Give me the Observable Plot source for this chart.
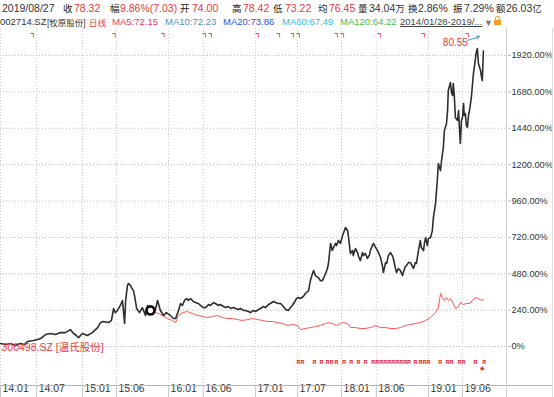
<!DOCTYPE html>
<html><head><meta charset="utf-8">
<script src="https://cdn.jsdelivr.net/npm/d3@7"></script>
<script src="https://cdn.jsdelivr.net/npm/@observablehq/plot@0.6"></script>
<style>
html,body{margin:0;padding:0;background:#fff;}
body{width:554px;height:397px;position:relative;overflow:hidden;font-family:"Liberation Sans","Noto Sans CJK SC",sans-serif;color:#333;}
.h{position:absolute;white-space:nowrap;line-height:12px;}
.r1{top:2px;font-size:10.5px;}
.r2{top:16px;font-size:9.5px;}
.cjk1{font-size:9.5px;top:3px;}
.cjk2{font-size:8.5px;top:17px;}
.sm{font-size:9.5px;}
#chart{position:absolute;left:0;top:28px;}
.ln{position:absolute;}
</style></head><body>
<div id="hdr"></div>
<div id="chart"></div>
<script>
// ---------- data ----------
const quoteDate = "2019/08/27";
const quoteLabels = ["收","幅","开","高","低","均","量","换","振","额"];
const quoteValues = ["78.32","9.86%(7.03)","74.00","78.42","73.22","76.45","34.04","2.86%","7.29%","26.03"];
const quoteUnits = ["","","","","","","万","","","亿"];
const stockCode = "002714.SZ";
const stockName = "[牧原股份]";
const periodName = "日线";
const maNames = ["MA5","MA10","MA20","MA60","MA120"];
const maValues = ["72.15","72.23","73.86","67.49","64.22"];
const rangeText = "2014/01/28-2019/...";
const compareName = "300498.SZ [温氏股份]";
const peakLabel = "80.55";

const xTickDays = [0, 102, 231, 327, 474, 572, 719, 838, 962, 1060, 1207, 1303];
const xTickLabels = ["14.01","14.07","15.01","15.06","16.01","16.06","17.01","17.07","18.01","18.06","19.01","19.06"];
const yTicks = [0, 240, 480, 720, 960, 1200, 1440, 1680, 1920];

// [trading day index, cumulative change %]
const muyuan = [[0,20],[14,13],[28,20],[42,7],[56,20],[68,13],[76,33],[93,40],[104,46],[113,53],[127,79],[141,86],[155,79],[169,92],[183,92],[197,112],[206,86],[214,73],[220,59],[231,86],[245,73],[259,92],[274,125],[282,158],[290,165],[305,158],[313,172],[319,251],[324,224],[330,238],[338,271],[344,304],[350,152],[353,304],[358,402],[361,416],[367,402],[369,389],[375,369],[378,336],[384,251],[392,224],[400,257],[409,205],[415,271],[423,238],[431,257],[437,244],[443,304],[451,238],[460,205],[468,224],[479,205],[488,185],[494,185],[502,238],[508,284],[513,271],[519,304],[525,317],[530,304],[536,317],[544,297],[550,290],[558,284],[564,271],[572,257],[578,257],[587,277],[592,271],[601,290],[606,284],[615,271],[620,277],[629,264],[635,257],[643,264],[649,251],[657,257],[663,251],[671,244],[677,251],[685,238],[691,238],[699,231],[705,224],[713,238],[719,231],[728,244],[733,251],[742,264],[747,257],[756,277],[761,284],[770,297],[776,290],[784,284],[790,284],[798,264],[804,244],[812,238],[818,257],[823,271],[832,304],[835,317],[840,323],[846,317],[854,330],[860,350],[869,369],[874,435],[880,482],[883,501],[888,468],[897,455],[902,435],[908,435],[917,482],[922,515],[925,548],[931,680],[936,633],[939,653],[945,680],[948,666],[953,699],[959,680],[964,726],[967,746],[973,785],[979,765],[981,732],[987,614],[993,633],[995,600],[1001,647],[1007,620],[1010,594],[1015,567],[1021,620],[1024,600],[1029,614],[1035,581],[1041,607],[1043,633],[1049,666],[1052,680],[1058,653],[1060,647],[1066,620],[1072,587],[1077,534],[1080,488],[1086,554],[1089,548],[1094,600],[1100,620],[1105,600],[1108,581],[1114,515],[1117,488],[1122,515],[1128,501],[1134,468],[1136,488],[1142,528],[1145,534],[1151,554],[1156,554],[1162,528],[1165,515],[1170,554],[1173,548],[1179,633],[1184,699],[1187,653],[1193,633],[1196,686],[1199,719],[1204,666],[1207,713],[1213,719],[1218,765],[1221,851],[1227,943],[1232,1095],[1235,1207],[1241,1161],[1244,1227],[1249,1313],[1252,1425],[1258,1471],[1261,1557],[1263,1689],[1269,1742],[1272,1676],[1275,1656],[1277,1735],[1280,1656],[1283,1511],[1289,1491],[1292,1557],[1294,1458],[1297,1339],[1300,1491],[1303,1511],[1306,1603],[1308,1524],[1311,1537],[1314,1458],[1317,1445],[1320,1524],[1323,1557],[1328,1643],[1334,1801],[1340,1907],[1342,1940],[1345,1966],[1348,1867],[1354,1821],[1356,1788],[1359,1755],[1362,1950]];

const wensDays = [423,437,446,457,471,485,494,502,513,527,541,556,570,584,598,612,626,640,654,668,682,697,711,725,739,753,767,781,795,809,823,838,846,860,874,888,902,917,925,936,948,959,967,979,987,1001,1015,1029,1043,1058,1072,1086,1100,1114,1128,1142,1156,1170,1184,1199,1213,1227,1235,1241,1246,1252,1258,1263,1269,1277,1283,1289,1297,1306,1314,1323,1331,1340,1348,1356,1362];
const wensPct = [238,224,218,205,185,172,158,205,224,231,218,205,198,191,198,205,191,185,185,178,172,178,185,178,172,165,165,158,152,139,145,139,112,119,125,132,139,152,158,152,139,152,158,152,125,125,119,119,125,139,125,125,119,119,125,139,145,152,158,172,191,224,257,350,323,304,323,304,317,284,251,257,290,277,284,284,304,323,317,304,310];

const infoFlagDays = [93,324,462,587,728,787,835,959,1072,1196,1320];
const infoFlagCounts = [1,1,1,2,1,1,2,2,1,1,1];
const rightsDays = [835,880,900,917,942,964,984,1004,1024,1046,1165,1179,1235,1255,1289,1334,1359];
const rightsCounts = [2,1,1,2,1,1,1,1,1,10,1,3,1,2,2,1,1];
const starDays = [1359];

// ---------- header ----------
const RED = "#e8383d";
const hdr = document.getElementById("hdr");
function span(cls, x, txt, color, extra) {
  const s = document.createElement("span");
  s.className = "h " + cls;
  s.style.left = x + "px";
  s.style.color = color;
  s.textContent = txt;
  if (extra) Object.assign(s.style, extra);
  hdr.appendChild(s);
  return s;
}
const labelX = [63,110,180,232,273,318,358,408,453,496];
const valueX = [74,120,192,243,285,329,369,418,464,506];
span("r1", 2, quoteDate, "#333");
quoteLabels.forEach((l, i) => {
  span("cjk1", labelX[i], l, "#222");
  const s = span("r1", valueX[i], quoteValues[i], i < 6 ? RED : "#333");
  if (quoteUnits[i]) {
    const u = document.createElement("span");
    u.className = "sm";
    u.textContent = quoteUnits[i];
    s.appendChild(u);
  }
});
span("r2", 0, stockCode, "#333");
span("cjk2", 47, stockName, "#333");
span("cjk2", 89, periodName, RED);
const maColors = ["#e8405a","#5a8db8","#3050e0","#2ec0e0","#4cbb4c"];
const maX = [112,165,223,282,340];
maNames.forEach((n, i) => span("r2", maX[i], n + ":" + maValues[i], maColors[i]));
span("r2", 400, rangeText, "#444", {textDecoration: "underline"});
span("r2", 484, "▼", "#777", {fontSize: "9px", top: "17px"});
const lk = document.createElement("div");
Object.assign(lk.style, {position:"absolute", left:"494px", top:"20px", width:"7px", height:"5px", background:"#f0a020"});
hdr.appendChild(lk);
const lk2 = document.createElement("div");
Object.assign(lk2.style, {position:"absolute", left:"495px", top:"16px", width:"3px", height:"4px", border:"1.5px solid #f0a020", borderBottom:"none", borderRadius:"3px 3px 0 0"});
hdr.appendChild(lk2);

function line(l, t, w, h, c) {
  const d = document.createElement("div");
  d.className = "ln";
  Object.assign(d.style, {left: l + "px", top: t + "px", width: w + "px", height: h + "px", background: c});
  document.body.appendChild(d);
}

// ---------- chart ----------
const muyuanData = muyuan.map(([day, pct]) => ({day, pct}));
const wensData = wensDays.map((day, i) => ({day, pct: wensPct[i]}));
const flagData = infoFlagDays.map((day, i) => ({day, n: infoFlagCounts[i]}));
const rightsData = rightsDays.map((day, i) => ({day, n: rightsCounts[i]}));
const peak = d3.greatest(muyuanData, d => d.pct);
const yMin = -257, yMax = 2098;

const chart = Plot.plot({
  width: 554,
  height: 369,
  marginTop: 0,
  marginBottom: 12,
  marginLeft: 0,
  marginRight: 47,
  style: {fontFamily: "'Liberation Sans','Noto Sans CJK SC',sans-serif", fontSize: "10px", color: "#333", background: "#fff"},
  x: {domain: [0, 1430], axis: null},
  y: {domain: [yMin, yMax], axis: null},
  marks: [
    Plot.ruleY(yTicks, {stroke: "#bdbdbd", strokeDasharray: "1,2"}),
    Plot.ruleX(xTickDays, {stroke: "#cfcfcf", strokeDasharray: "1,2"}),
    Plot.ruleX(xTickDays, {y1: yMin, y2: yMin - 90, stroke: "#c8c8c8"}),
    Plot.axisY(yTicks, {anchor: "right", label: null, tickSize: 3, tickPadding: 1, fontSize: 9.2,
      tickFormat: d => d === 0 ? "0%" : d.toFixed(2) + "%", stroke: "#bbb"}),
    Plot.text(xTickDays, {x: d => d, text: (d, i) => xTickLabels[i], frameAnchor: "bottom",
      textAnchor: "start", dx: 2, dy: 6, fontSize: 10.5, fill: "#333"}),
    Plot.line(wensData, {x: "day", y: "pct", stroke: "#ff5252", strokeWidth: 1}),
    Plot.line(muyuanData, {x: "day", y: "pct", stroke: "#2e2e2e", strokeWidth: 1.6}),
    Plot.dot([wensData[0]], {x: "day", y: "pct", r: 4, stroke: "#111", strokeWidth: 2.8, fill: "#fff"}),
    Plot.text([peak], {x: "day", y: "pct", text: () => peakLabel, dx: -22, dy: -6, fill: RED, fontSize: 10}),
    Plot.arrow([peak], {x1: d => d.day - 28, y1: d => d.pct + 53, x2: d => d.day + 6, y2: d => d.pct + 79,
      stroke: "#3aa6c8", strokeWidth: 1, headLength: 5, bend: false}),
    Plot.text([compareName], {frameAnchor: "bottom-left", text: d => d, dx: 1, dy: -35,
      textAnchor: "start", fill: "#f03a3a", fontSize: 10.5}),
    Plot.text(rightsData, {x: "day", frameAnchor: "bottom", dy: -22, text: d => "R".repeat(d.n),
      textAnchor: "start", fill: "#e02020", fontSize: 5.5, fontWeight: "bold"}),
    Plot.text(starDays, {x: d => d, frameAnchor: "bottom", dy: -16, text: () => "★",
      fill: "#e02020", fontSize: 6}),
    Plot.text(flagData, {x: "day", frameAnchor: "top", dy: 3, text: d => "┓".repeat(d.n),
      fill: "#e02020", fontSize: 6, fontWeight: "bold"})
  ]
});
document.getElementById("chart").appendChild(chart);
line(0, 385, 552, 1, "#b5b5b5");
line(506, 28, 1, 369, "#d0d0d0");
line(552, 28, 1, 369, "#dcdcdc");
</script></body></html>
